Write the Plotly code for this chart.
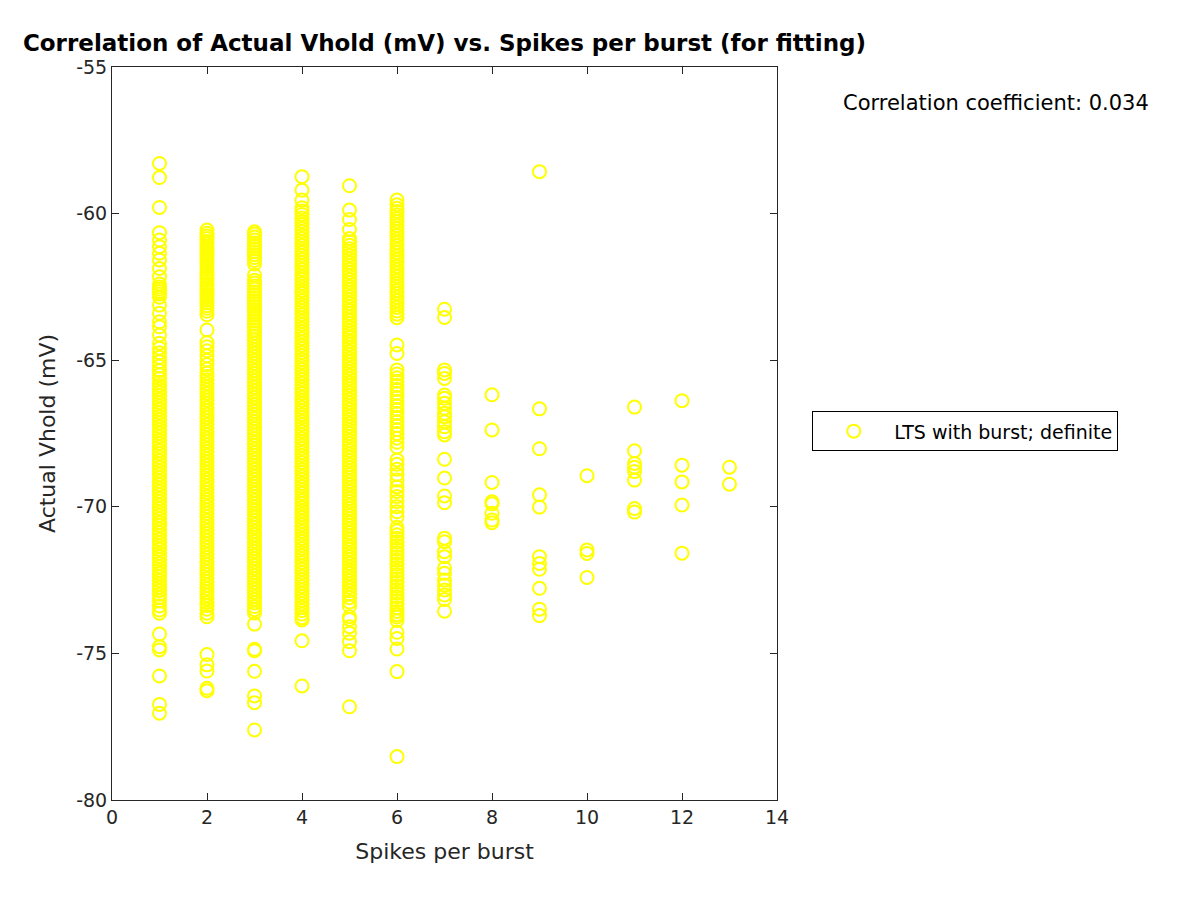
import plotly.graph_objects as go

# Spikes per burst values (x categories)
spikes = [1, 2, 3, 4, 5, 6, 7, 8, 9, 10, 11, 12, 13]

# Actual Vhold (mV) values, one list per spikes-per-burst value
vhold_1 = [-58.29, -58.77, -59.79, -60.65, -60.9, -61.13, -61.35, -61.58, -61.87, -62.15,
           -62.4, -62.5, -62.58, -62.66, -62.74, -62.85, -63.12, -63.4, -63.69, -63.86,
           -64.14, -64.42, -64.59, -64.75, -64.9, -65.05, -65.2, -65.35, -65.5, -65.62, -65.75,
           -65.86, -65.98, -66.09, -66.21, -66.33, -66.44, -66.56, -66.68, -66.79, -66.91,
           -67.03, -67.14, -67.26, -67.38, -67.49, -67.61, -67.73, -67.84, -67.96, -68.08,
           -68.19, -68.31, -68.43, -68.54, -68.66, -68.78, -68.89, -69.01, -69.13, -69.24,
           -69.36, -69.48, -69.59, -69.71, -69.83, -69.94, -70.06, -70.18, -70.29, -70.41,
           -70.53, -70.64, -70.76, -70.88, -70.99, -71.11, -71.23, -71.34, -71.46, -71.58,
           -71.69, -71.81, -71.93, -72.04, -72.16, -72.28, -72.39, -72.51, -72.63, -72.74,
           -72.86, -72.98, -73.09, -73.21, -73.38, -73.52, -73.63, -74.34, -74.77, -74.88,
           -75.77, -76.74, -77.04]
vhold_2 = [-60.56, -60.67, -60.76, -60.85, -60.95, -61.04, -61.14, -61.23, -61.33, -61.42,
           -61.52, -61.61, -61.71, -61.8, -61.9, -62.0, -62.09, -62.19, -62.28, -62.38,
           -62.47, -62.57, -62.66, -62.76, -62.85, -62.95, -63.04, -63.14, -63.23, -63.33,
           -63.45, -63.97, -64.4, -64.54, -64.68, -64.85, -65.0, -65.15, -65.3,
           -65.44, -65.56, -65.67, -65.79, -65.91, -66.02, -66.14, -66.26, -66.37, -66.49,
           -66.61, -66.72, -66.84, -66.96, -67.07, -67.19, -67.31, -67.42, -67.54, -67.66,
           -67.77, -67.89, -68.01, -68.12, -68.24, -68.36, -68.47, -68.59, -68.71, -68.82,
           -68.94, -69.06, -69.17, -69.29, -69.41, -69.52, -69.64, -69.76, -69.87, -69.99,
           -70.11, -70.22, -70.34, -70.46, -70.57, -70.69, -70.81, -70.92, -71.04, -71.16,
           -71.27, -71.39, -71.51, -71.62, -71.74, -71.86, -71.97, -72.09, -72.21, -72.32,
           -72.44, -72.56, -72.67, -72.79, -72.91, -73.02, -73.14, -73.26, -73.37, -73.49,
           -73.63, -73.75, -75.04, -75.39, -75.6, -76.19, -76.27]
vhold_3 = [-60.62, -60.7, -60.8, -60.9, -61.0, -61.1, -61.2, -61.3, -61.4, -61.5, -61.6,
           -61.72, -62.1, -62.27, -62.37, -62.47, -62.57, -62.67, -62.77, -62.87, -62.97,
           -63.07, -63.17, -63.27, -63.37, -63.47, -63.57, -63.67, -63.77, -63.87, -63.97,
           -64.07, -64.18, -64.3, -64.41, -64.53, -64.65, -64.76, -64.88, -65.0, -65.11,
           -65.23, -65.35, -65.46, -65.58, -65.7, -65.81, -65.93, -66.05, -66.16, -66.28,
           -66.4, -66.51, -66.63, -66.75, -66.86, -66.98, -67.1, -67.21, -67.33, -67.45,
           -67.56, -67.68, -67.8, -67.91, -68.03, -68.15, -68.26, -68.38, -68.5, -68.61,
           -68.73, -68.85, -68.96, -69.08, -69.2, -69.31, -69.43, -69.55, -69.66, -69.78,
           -69.9, -70.01, -70.13, -70.25, -70.36, -70.48, -70.6, -70.71, -70.83, -70.95,
           -71.06, -71.18, -71.3, -71.41, -71.53, -71.65, -71.76, -71.88, -72.0, -72.11,
           -72.23, -72.35, -72.46, -72.58, -72.7, -72.81, -72.93, -73.05, -73.16, -73.28,
           -73.4, -73.51, -73.62, -74.0, -74.86, -74.91, -75.61, -76.45, -76.68, -77.61]
vhold_4 = [-58.74, -59.2, -59.54, -59.8, -59.91, -60.03, -60.15, -60.27, -60.38, -60.5,
           -60.62, -60.74, -60.85, -60.97, -61.09, -61.21, -61.32, -61.44, -61.56, -61.68,
           -61.79, -61.91, -62.03, -62.15, -62.26, -62.38, -62.5, -62.62, -62.73, -62.85,
           -62.97, -63.09, -63.2, -63.32, -63.44, -63.56, -63.67, -63.79, -63.91, -64.03,
           -64.14, -64.26, -64.38, -64.5, -64.61, -64.73, -64.85, -64.97, -65.08, -65.2,
           -65.32, -65.44, -65.55, -65.67, -65.79, -65.91, -66.02, -66.14, -66.26, -66.38,
           -66.49, -66.61, -66.73, -66.85, -66.96, -67.08, -67.2, -67.32, -67.43, -67.55,
           -67.67, -67.79, -67.9, -68.02, -68.14, -68.26, -68.37, -68.49, -68.61, -68.73,
           -68.84, -68.96, -69.08, -69.2, -69.31, -69.43, -69.55, -69.67, -69.78, -69.9,
           -70.02, -70.14, -70.25, -70.37, -70.49, -70.61, -70.72, -70.84, -70.96, -71.08,
           -71.19, -71.31, -71.43, -71.55, -71.66, -71.78, -71.9, -72.02, -72.13, -72.25,
           -72.37, -72.49, -72.6, -72.72, -72.84, -72.96, -73.07, -73.19, -73.31, -73.43,
           -73.54, -73.66, -73.78, -73.86, -74.57, -76.11]
vhold_5 = [-59.05, -59.88, -60.2, -60.54, -60.85, -60.96, -61.08, -61.2, -61.31, -61.43,
           -61.55, -61.66, -61.78, -61.9, -62.01, -62.13, -62.25, -62.36, -62.48, -62.6,
           -62.71, -62.83, -62.95, -63.06, -63.18, -63.3, -63.41, -63.53, -63.65, -63.76,
           -63.88, -64.0, -64.11, -64.23, -64.35, -64.46, -64.58, -64.7, -64.81, -64.93,
           -65.05, -65.16, -65.28, -65.4, -65.51, -65.63, -65.75, -65.86, -65.98, -66.1,
           -66.21, -66.33, -66.45, -66.56, -66.68, -66.8, -66.91, -67.03, -67.15, -67.26,
           -67.38, -67.5, -67.61, -67.73, -67.85, -67.96, -68.08, -68.2, -68.31, -68.43,
           -68.55, -68.66, -68.78, -68.9, -69.01, -69.13, -69.25, -69.36, -69.48, -69.6,
           -69.71, -69.83, -69.95, -70.06, -70.18, -70.3, -70.41, -70.53, -70.65, -70.76,
           -70.88, -71.0, -71.11, -71.23, -71.35, -71.46, -71.58, -71.7, -71.81, -71.93,
           -72.05, -72.16, -72.28, -72.4, -72.51, -72.63, -72.75, -72.86, -72.98, -73.1,
           -73.25, -73.4, -73.75, -73.84, -74.09, -74.31, -74.6, -74.91, -76.82]
vhold_6 = [-59.54, -59.7, -59.82, -59.93, -60.05, -60.17, -60.28, -60.4, -60.52, -60.63,
           -60.75, -60.87, -60.98, -61.1, -61.22, -61.33, -61.45, -61.57, -61.68, -61.8,
           -61.92, -62.03, -62.15, -62.27, -62.38, -62.5, -62.62, -62.73, -62.85, -62.97,
           -63.08, -63.2, -63.32, -63.43, -63.55, -64.48, -64.77,
           -65.33, -65.47, -65.6, -65.72, -65.86, -66.0, -66.13, -66.27, -66.4, -66.55,
           -66.68, -66.82, -66.95, -67.1, -67.23, -67.37, -67.5, -67.66, -67.8, -67.96,
           -68.4, -68.55, -68.72, -68.9, -69.09,
           -69.32, -69.48, -69.65, -69.82, -70.0, -70.17, -70.35,
           -70.7, -70.82, -70.95, -71.07, -71.2, -71.32, -71.45, -71.57, -71.7, -71.82,
           -71.95, -72.07, -72.2, -72.32, -72.45, -72.57, -72.7, -72.82, -72.95, -73.07,
           -73.2, -73.32, -73.45, -73.57, -73.68, -73.76,
           -73.88, -74.28, -74.49, -74.85, -75.62, -78.52]
vhold_7 = [-63.26, -63.54, -65.33, -65.45, -65.62, -66.19, -66.3, -66.47, -66.64, -66.81,
           -66.93, -67.1, -67.27, -67.44, -67.55, -68.38, -69.02, -69.63, -69.86, -71.07,
           -71.19, -71.53, -71.7, -72.1, -72.27, -72.5, -72.67, -72.84, -73.01, -73.16, -73.56]
vhold_8 = [-66.18, -67.38, -69.17, -69.83, -69.9, -70.22, -70.45, -70.54]
vhold_9 = [-58.57, -66.66, -68.02, -69.59, -70.01, -71.7, -71.93, -72.13, -72.78, -73.49, -73.71]
vhold_10 = [-68.94, -71.47, -71.59, -72.41]
vhold_11 = [-66.6, -68.09, -68.52, -68.65, -68.8, -69.09, -70.06, -70.18]
vhold_12 = [-66.38, -68.58, -69.15, -69.94, -71.58]
vhold_13 = [-68.65, -69.23]

x_ticks = [0, 2, 4, 6, 8, 10, 12, 14]
x_tick_labels = ["0", "2", "4", "6", "8", "10", "12", "14"]
y_ticks = [-80, -75, -70, -65, -60, -55]
y_tick_labels = ["-80", "-75", "-70", "-65", "-60", "-55"]

columns = [vhold_1, vhold_2, vhold_3, vhold_4, vhold_5, vhold_6, vhold_7,
           vhold_8, vhold_9, vhold_10, vhold_11, vhold_12, vhold_13]
xs, ys = [], []
for s, vals in zip(spikes, columns):
    xs.extend([s] * len(vals))
    ys.extend(vals)

FONT = "DejaVu Sans"
AX = "#262626"

fig = go.Figure()
fig.add_trace(go.Scatter(
    x=xs, y=ys, mode="markers", name="LTS with burst; definite",
    marker=dict(symbol="circle-open", size=13, color="#FFFF00",
                line=dict(width=2, color="#FFFF00")),
))

axis_common = dict(
    showline=True, linecolor=AX, linewidth=1, mirror="ticks",
    ticks="inside", ticklen=7, tickcolor=AX, tickwidth=1,
    showgrid=False, zeroline=False,
    tickfont=dict(family=FONT, size=19, color=AX),
)

fig.update_layout(
    width=1200, height=900,
    paper_bgcolor="white", plot_bgcolor="white",
    margin=dict(l=104, r=431, t=59, b=108),
    font=dict(family=FONT, color=AX),
    title=dict(text="<b>Correlation of Actual Vhold (mV) vs. Spikes per burst (for fitting)</b>",
               x=0.5, xref="paper", xanchor="center", y=0.961, yref="container",
               yanchor="middle", font=dict(family=FONT, size=23, color="black")),
    xaxis=dict(range=[0, 14], tickvals=x_ticks, ticktext=x_tick_labels,
               title=dict(text="Spikes per burst", font=dict(family=FONT, size=22, color=AX),
                          standoff=16),
               **axis_common),
    yaxis=dict(range=[-80, -55], tickvals=y_ticks, ticktext=y_tick_labels,
               title=dict(text="Actual Vhold (mV)", font=dict(family=FONT, size=22, color=AX),
                          standoff=14),
               **axis_common),
    showlegend=True,
    legend=dict(x=1.053, y=0.503, xanchor="left", yanchor="middle",
                xref="paper", yref="paper",
                bordercolor="black", borderwidth=1, bgcolor="white",
                font=dict(family=FONT, size=19, color="black"),
                itemwidth=71),
    annotations=[dict(text="Correlation coefficient: 0.034", x=1.329, y=0.951,
                      xref="paper", yref="paper", xanchor="center", yanchor="middle",
                      showarrow=False, font=dict(family=FONT, size=21, color="black"))],
)

fig.write_html("out.html")
